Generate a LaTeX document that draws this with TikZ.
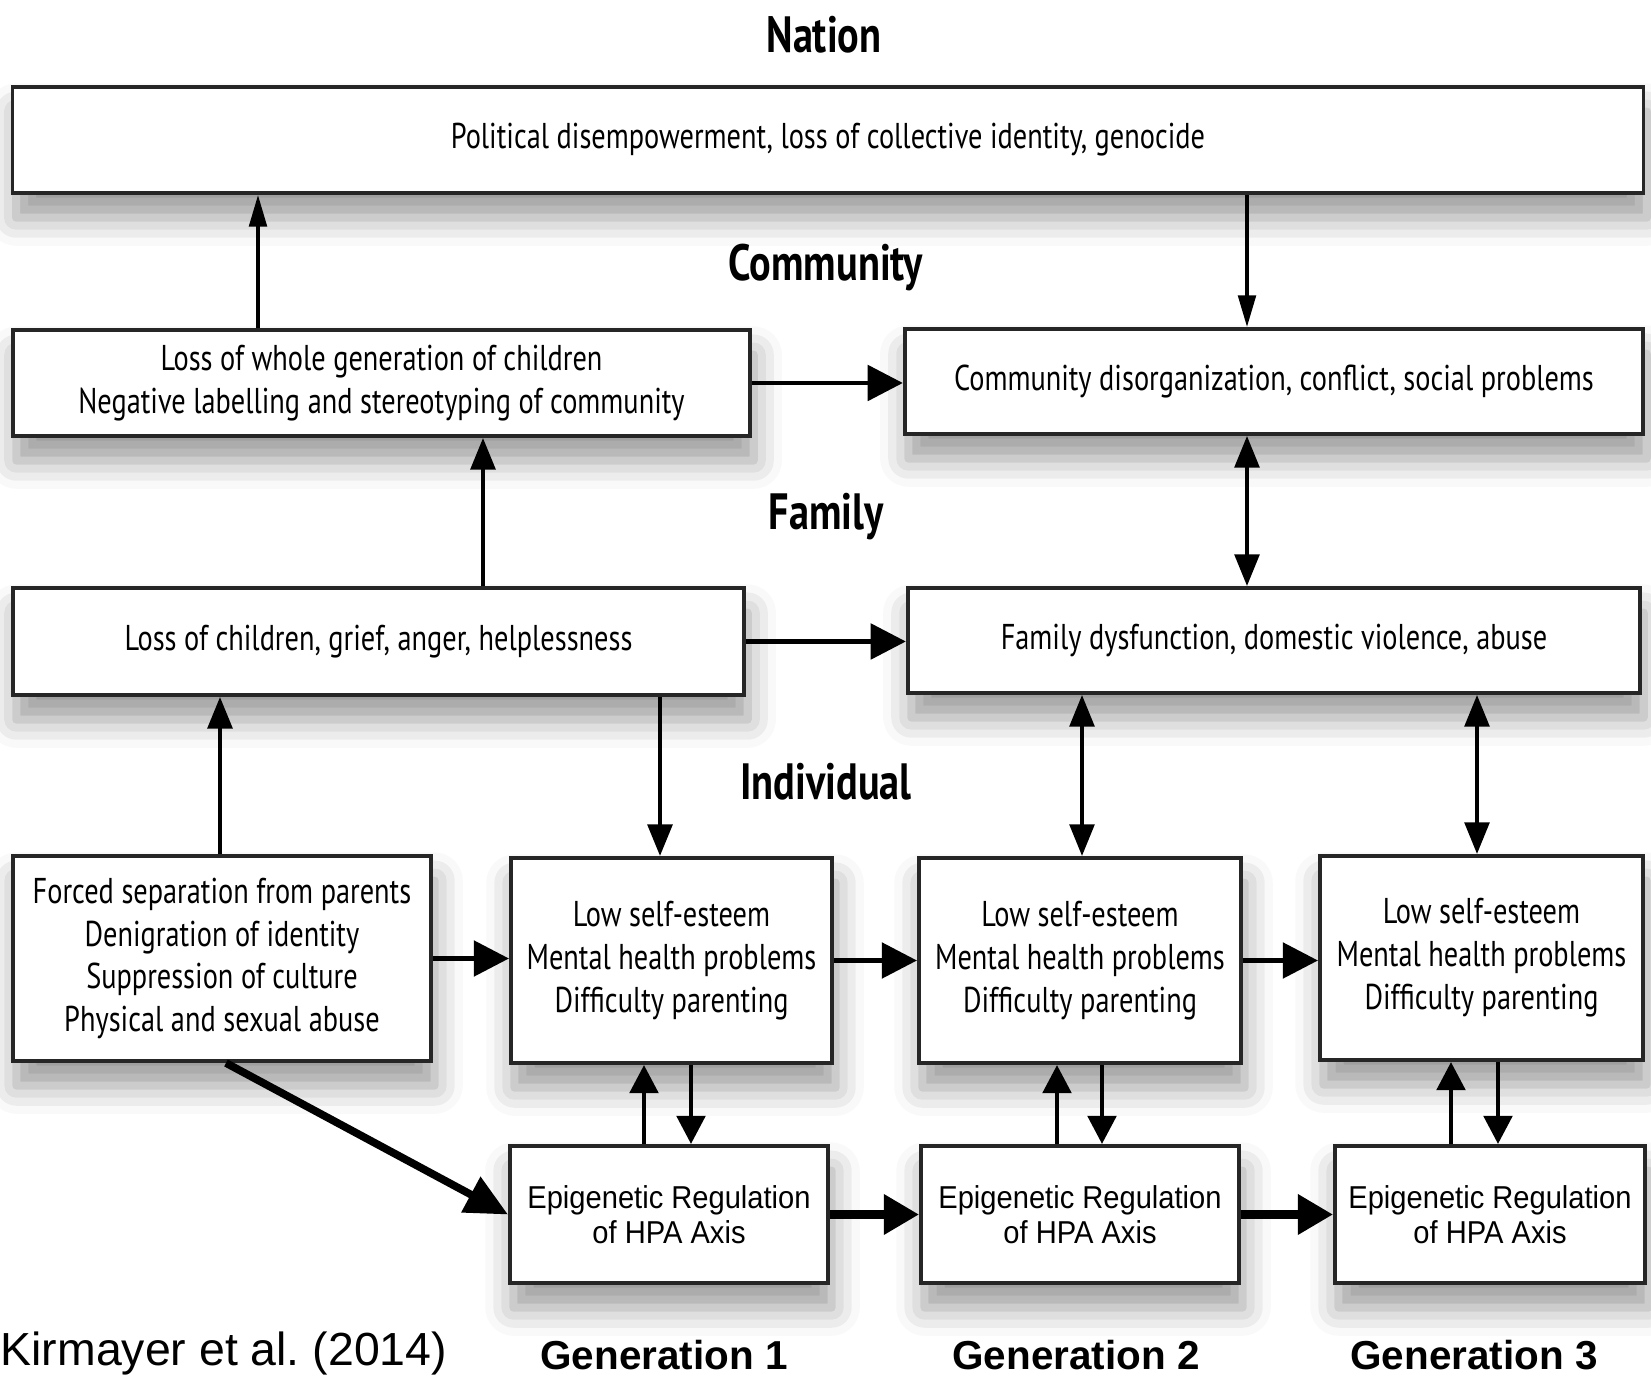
\documentclass[tikz,border=0pt]{standalone}
\usepackage{fontspec}
\setmainfont{PT Sans}[FakeStretch=0.8]
\newfontfamily\boxfont{PT Sans}[FakeStretch=0.79]
\newfontfamily\epifont{Liberation Sans}[FakeStretch=0.92]
\newfontfamily\helv{Liberation Sans}
\usetikzlibrary{arrows.meta,shadows.blur}
\frenchspacing
\begin{document}
\begin{tikzpicture}[x=0.01cm,y=-0.01cm,
  box/.style={draw=black!85,line width=1.1pt,fill=white,align=center,inner sep=0pt,
    blur shadow={shadow xshift=1pt,shadow yshift=-7pt,shadow blur radius=8pt,shadow opacity=40},
    font=\boxfont\fontsize{10.2}{12.2}\selectfont},
  epibox/.style={box,font=\epifont\fontsize{9}{9.8}\selectfont},
  level/.style={font=\boxfont\bfseries\fontsize{14.5}{16}\selectfont},
  gen/.style={font=\helv\bfseries\fontsize{11.5}{13}\selectfont},
  thin/.style={line width=1pt,-{Triangle[length=9pt,width=5pt]}},
  med/.style={line width=1.2pt,-{Triangle[length=9pt,width=7pt]}},
  dbl/.style={line width=1.1pt,{Triangle[length=9pt,width=7pt]}-{Triangle[length=9pt,width=7pt]}},
  hor/.style={line width=1.4pt,-{Triangle[length=10pt,width=10pt]}},
  sml/.style={line width=1.4pt,-{Triangle[length=8pt,width=8pt]}},
  thick/.style={line width=2.3pt,-{Triangle[length=10pt,width=11pt]}},
  diag/.style={line width=2.2pt,-{Triangle[length=12pt,width=11pt]}}
]
\useasboundingbox (0,0) rectangle (1651,1383);

% level labels
\node[level] (lnation) at (824,35) {Nation};
\node[level] (lcomm) at (826,268) {Community};
\node[level] (lfam) at (826,517) {Family};
\node[level] (lind) at (826,782) {Individual};

% boxes
\node[box,minimum width=16.3cm,minimum height=1.06cm] (top) at (828,140)
  {Political disempowerment, loss of collective identity, genocide};
\node[box,minimum width=7.37cm,minimum height=1.06cm] (commL) at (381.5,383)
  {Loss of whole generation of children\\Negative labelling and stereotyping of community};
\node[box,minimum width=7.38cm,minimum height=1.05cm] (commR) at (1274,381.5)
  {Community disorganization, conflict, social problems};
\node[box,minimum width=7.31cm,minimum height=1.07cm] (famL) at (378.5,641.5)
  {Loss of children, grief, anger, helplessness};
\node[box,minimum width=7.32cm,minimum height=1.05cm] (famR) at (1274,640.5)
  {Family dysfunction, domestic violence, abuse};
\node[box,minimum width=4.18cm,minimum height=2.05cm] (forced) at (222,958.5)
  {Forced separation from parents\\Denigration of identity\\Suppression of culture\\Physical and sexual abuse};
\node[box,minimum width=3.21cm,minimum height=2.05cm] (low1) at (671.5,960.5)
  {Low self-esteem\\Mental health problems\\Difficulty parenting};
\node[box,minimum width=3.22cm,minimum height=2.05cm] (low2) at (1080,960.5)
  {Low self-esteem\\Mental health problems\\Difficulty parenting};
\node[box,minimum width=3.23cm,minimum height=2.04cm] (low3) at (1481.5,958)
  {Low self-esteem\\Mental health problems\\Difficulty parenting};
\node[epibox,minimum width=3.18cm,minimum height=1.37cm] (epi1) at (669,1214.5)
  {Epigenetic Regulation\\of HPA Axis};
\node[epibox,minimum width=3.18cm,minimum height=1.37cm] (epi2) at (1080,1214.5)
  {Epigenetic Regulation\\of HPA Axis};
\node[epibox,minimum width=3.10cm,minimum height=1.37cm] (epi3) at (1490,1214.5)
  {Epigenetic Regulation\\of HPA Axis};

% bottom labels
\node[gen] (g1) at (664,1355) {Generation 1};
\node[gen] (g2) at (1076,1355) {Generation 2};
\node[gen] (g3) at (1474,1355) {Generation 3};
\node[anchor=west,inner sep=0pt,font=\helv\fontsize{13.2}{15}\selectfont] (cite) at (0,1353) {Kirmayer et al. (2014)};

% column coordinates
\coordinate (xa) at (258,0);
\coordinate (xb) at (1247,0);
\coordinate (xc) at (483,0);
\coordinate (xd) at (220,0);
\coordinate (xe) at (660,0);
\coordinate (xf) at (1082,0);
\coordinate (xg) at (1477,0);
\coordinate (u1) at (644,0);
\coordinate (d1) at (691,0);
\coordinate (u2) at (1057,0);
\coordinate (d2) at (1102,0);
\coordinate (u3) at (1451,0);
\coordinate (d3) at (1498,0);
\coordinate (ds) at (226,0);

% connectors
\draw[thin] (commL.north -| xa) -- (top.south -| xa);
\draw[thin] (top.south -| xb) -- (commR.north -| xb);
\draw[hor] (commL.east) -- (commR.west |- commL.east);
\draw[med] (famL.north -| xc) -- (commL.south -| xc);
\draw[dbl] (commR.south -| xb) -- (famR.north -| xb);
\draw[hor] (famL.east) -- (famR.west |- famL.east);
\draw[med] (forced.north -| xd) -- (famL.south -| xd);
\draw[med] (famL.south -| xe) -- (low1.north -| xe);
\draw[dbl] (famR.south -| xf) -- (low2.north -| xf);
\draw[dbl] (famR.south -| xg) -- (low3.north -| xg);
\draw[hor] (forced.east) -- (low1.west |- forced.east);
\draw[hor] (low1.east) -- (low2.west |- low1.east);
\draw[hor] (low2.east) -- (low3.west |- low2.east);
\draw[sml] (epi1.north -| u1) -- (low1.south -| u1);
\draw[sml] (low1.south -| d1) -- (epi1.north -| d1);
\draw[sml] (epi2.north -| u2) -- (low2.south -| u2);
\draw[sml] (low2.south -| d2) -- (epi2.north -| d2);
\draw[sml] (epi3.north -| u3) -- (low3.south -| u3);
\draw[sml] (low3.south -| d3) -- (epi3.north -| d3);
\draw[thick] (epi1.east) -- (epi2.west);
\draw[thick] (epi2.east) -- (epi3.west);
\draw[diag] (forced.south -| ds) -- (epi1.west);
\end{tikzpicture}
\end{document}
